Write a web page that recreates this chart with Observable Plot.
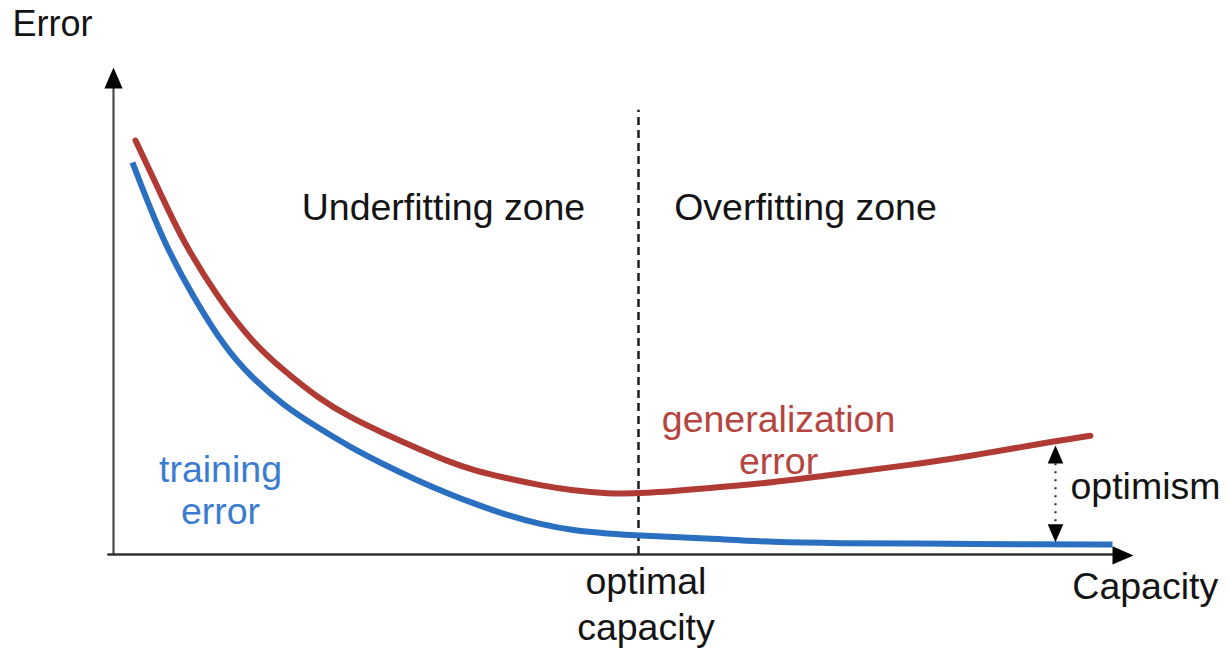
<!DOCTYPE html>
<html><head><meta charset="utf-8">
<script src="https://cdn.jsdelivr.net/npm/d3@7"></script>
<script src="https://cdn.jsdelivr.net/npm/@observablehq/plot@0.6"></script>
<style>body{margin:0;background:#fff}</style>
</head><body><div id="chart"></div>
<script>
// Generalization error curve (red)
const genCapacity = [2.16, 4.80, 6.76, 10.20, 13.63, 16.67, 20.00, 23.24, 26.47, 29.80, 33.04, 35.29, 38.63, 41.86, 45.10, 48.43, 51.67, 58.24, 64.71, 71.27, 77.84, 84.31, 90.88, 95.78];
const genError    = [85.0, 73.3, 64.5, 52.8, 43.5, 37.8, 32.2, 28.1, 24.9, 21.8, 18.9, 17.3, 15.6, 14.2, 13.1, 12.5, 12.5, 13.6, 14.8, 16.6, 18.3, 20.3, 22.8, 24.4];
// Training error curve (blue)
const trainCapacity = [1.86, 4.80, 7.84, 10.98, 13.43, 16.67, 20.00, 23.24, 26.47, 29.80, 33.04, 35.29, 38.63, 41.86, 45.10, 48.43, 51.67, 58.24, 64.71, 71.27, 77.84, 90.88, 97.94];
const trainError    = [80.5, 64.5, 52.8, 42.3, 36.6, 30.6, 26.1, 22.0, 18.5, 15.2, 12.3, 10.5, 8.0, 6.2, 4.9, 4.3, 3.9, 3.3, 2.5, 2.3, 2.3, 2.05, 2.05];

const optimalCapacity = 51.47;
const optimismCapacity = 92.35;
const optimismTop = 22.4;
const optimismBottom = 2.5;

const labels = ["Error", "Capacity", "Underfitting zone", "Overfitting zone", "generalization\nerror", "training\nerror", "optimism", "optimal\ncapacity"];

const gen = genCapacity.map((x, i) => ({x, y: genError[i]}));
const train = trainCapacity.map((x, i) => ({x, y: trainError[i]}));

const arrowHead = {
  draw(ctx, size) {
    const r = Math.sqrt(size / Math.PI);
    const L = 3 * r, W = 1.3 * r;
    ctx.moveTo(0, 0);
    ctx.lineTo(W, L);
    ctx.lineTo(-W, L);
    ctx.closePath();
  }
};

const font = "'Liberation Sans', Arial, Helvetica, sans-serif";
const black = "#141414";
const red = "#b03a34";
const blue = "#2b6fc0";
const fs = 37.5;

const chart = Plot.plot({
  width: 1230,
  height: 649,
  marginLeft: 113,
  marginRight: 97,
  marginTop: 67,
  marginBottom: 95,
  x: {domain: [0, 100], axis: null},
  y: {domain: [0, 100], axis: null},
  style: {fontFamily: font, background: "#fff"},
  marks: [
    // axes
    Plot.line([{x: 0, y: 0}, {x: 0, y: 96}], {x: "x", y: "y", stroke: "#4a4a4a", strokeWidth: 2.2}),
    Plot.line([{x: -0.5, y: 0}, {x: 98.5, y: 0}], {x: "x", y: "y", stroke: "#333", strokeWidth: 2.6}),
    Plot.dot([{x: 0, y: 100, a: 0}, {x: 100, y: -0.2, a: 90}], {x: "x", y: "y", rotate: "a", symbol: arrowHead, r: 7, fill: "#000", stroke: "none"}),
    // dashed optimal capacity
    Plot.ruleX([optimalCapacity], {y1: 0, y2: 91.2, stroke: "#1e1e1e", strokeWidth: 2.5, strokeDasharray: "8,5"}),
    // curves
    Plot.line(gen, {x: "x", y: "y", stroke: red, strokeWidth: 6, curve: "basis", strokeLinecap: "round"}),
    Plot.line(train, {x: "x", y: "y", stroke: blue, strokeWidth: 6, curve: "basis", strokeLinecap: "butt"}),
    // optimism arrow
    Plot.ruleX([optimismCapacity], {y1: optimismBottom + 4.2, y2: optimismTop - 3.6, stroke: "#333", strokeWidth: 2.2, strokeDasharray: "2,6"}),
    Plot.dot([{x: optimismCapacity, y: optimismTop, a: 0}, {x: optimismCapacity, y: optimismBottom, a: 180}], {x: "x", y: "y", rotate: "a", symbol: arrowHead, r: 6, fill: "#000", stroke: "none"}),
    // labels
    Plot.text([labels[0]], {x: -9.9, y: 108.8, text: d => d, textAnchor: "start", fontSize: 36, fill: black}),
    Plot.text([labels[1]], {x: 94.0, y: -6.6, text: d => d, textAnchor: "start", fontSize: fs, fill: black}),
    Plot.text([labels[2]], {x: 32.35, y: 71.25, text: d => d, fontSize: fs, fill: black}),
    Plot.text([labels[3]], {x: 67.84, y: 71.25, text: d => d, fontSize: fs, fill: black}),
    Plot.text([labels[4]], {x: 65.2, y: 23.6, text: d => d, fontSize: fs, lineHeight: 1.13, fill: "#b5453f"}),
    Plot.text([labels[5]], {x: 10.49, y: 13.35, text: d => d, fontSize: fs, lineHeight: 1.13, fill: "#3b7cd0"}),
    Plot.text([labels[6]], {x: 93.82, y: 13.76, text: d => d, textAnchor: "start", fontSize: fs, fill: black}),
    Plot.text([labels[7]], {x: 52.2, y: -9.86, text: d => d, fontSize: fs, lineHeight: 1.22, fill: black})
  ]
});
document.getElementById("chart").appendChild(chart);
</script>
</body></html>
